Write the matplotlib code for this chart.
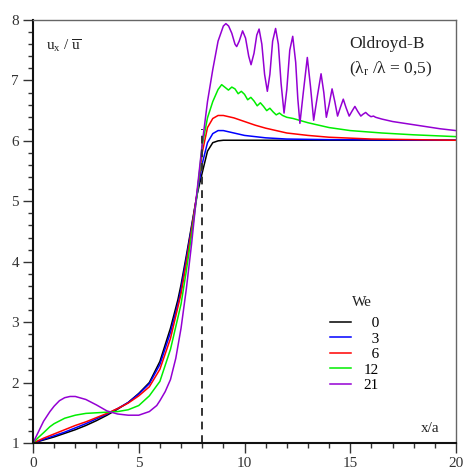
import matplotlib
matplotlib.use("Agg")
import matplotlib.pyplot as plt
from matplotlib.ticker import MultipleLocator

plt.rcParams['font.family'] = ['Liberation Serif', 'DejaVu Serif']
plt.rcParams['mathtext.fontset'] = 'custom'
plt.rcParams['mathtext.rm'] = 'Liberation Serif'
plt.rcParams['mathtext.it'] = 'Liberation Serif'
plt.rcParams['mathtext.bf'] = 'Liberation Serif'

# ---- data ----
we_labels = ["\u20070", "\u20073", "\u20076", "12", "21"]
colors = ["#000000", "#0000ff", "#ff0000", "#00ee00", "#9400d3"]

x_we0 = [0, 0.5, 1, 1.5, 2, 2.5, 3, 3.5, 4, 4.5, 5, 5.5, 6, 6.5, 6.85, 7, 7.25, 7.5, 7.75, 8, 8.25, 8.5, 8.75, 9, 10, 12, 15, 20]
y_we0 = [1.0, 1.05, 1.10, 1.16, 1.22, 1.29, 1.37, 1.46, 1.56, 1.67, 1.82, 2.0, 2.35, 2.9, 3.37, 3.62, 4.1, 4.6, 5.1, 5.47, 5.83, 5.97, 6.0, 6.01, 6.01, 6.01, 6.01, 6.01]

x_we3 = [0, 0.5, 1, 1.5, 2, 2.5, 3, 3.5, 4, 4.5, 5, 5.5, 6, 6.5, 6.9, 7, 7.25, 7.5, 7.75, 8, 8.25, 8.5, 8.75, 9, 9.5, 10, 11, 12, 14, 20]
y_we3 = [1.0, 1.06, 1.12, 1.18, 1.25, 1.32, 1.40, 1.48, 1.57, 1.67, 1.81, 1.98, 2.30, 2.83, 3.37, 3.55, 4.05, 4.57, 5.1, 5.62, 5.97, 6.12, 6.17, 6.17, 6.13, 6.09, 6.05, 6.03, 6.02, 6.01]

x_we6 = [0, 0.5, 1, 1.5, 2, 2.5, 3, 3.5, 4, 4.5, 5, 5.5, 6, 6.5, 7, 7.25, 7.5, 7.75, 8, 8.25, 8.5, 8.75, 9, 9.5, 10, 10.5, 11, 12, 13, 14, 16, 20]
y_we6 = [1.0, 1.08, 1.15, 1.22, 1.29, 1.35, 1.42, 1.49, 1.57, 1.66, 1.78, 1.93, 2.22, 2.73, 3.47, 3.98, 4.53, 5.12, 5.8, 6.22, 6.37, 6.42, 6.42, 6.38, 6.32, 6.26, 6.21, 6.13, 6.09, 6.06, 6.03, 6.01]

x_we12 = [0, 0.25, 0.5, 0.8, 1, 1.5, 2, 2.5, 3, 3.5, 4, 4.5, 5, 5.5, 6, 6.5, 7, 7.25, 7.5, 7.75, 8, 8.25, 8.5, 8.75, 8.92,
          9.1, 9.24, 9.4, 9.55, 9.7, 9.85, 10.0, 10.15, 10.3, 10.45, 10.6, 10.75, 10.9, 11.05, 11.2, 11.35, 11.5, 11.65, 11.8,
          12.0, 12.3, 12.6, 13, 14, 15, 16.5, 18, 20]
y_we12 = [1.0, 1.09, 1.17, 1.27, 1.32, 1.41, 1.46, 1.49, 1.50, 1.51, 1.52, 1.55, 1.62, 1.78, 2.02, 2.55, 3.3, 3.85, 4.45, 5.08, 5.92, 6.38, 6.65, 6.85, 6.93,
          6.88, 6.84, 6.89, 6.86, 6.78, 6.82, 6.77, 6.68, 6.72, 6.66, 6.58, 6.63, 6.57, 6.50, 6.54, 6.48, 6.43, 6.46, 6.42,
          6.39, 6.37, 6.34, 6.30, 6.22, 6.17, 6.13, 6.10, 6.07]

x_we21 = [0, 0.25, 0.5, 0.8, 1.0, 1.25, 1.5, 1.75, 2.0, 2.5, 3.0, 3.5, 4.0, 4.5, 5.0, 5.5, 5.85, 6.0, 6.25, 6.5, 6.75, 7.0, 7.25, 7.5,
          7.75, 8.0, 8.25, 8.5, 8.75, 9.0, 9.12, 9.25, 9.4, 9.55, 9.63, 9.75, 9.91, 10.05, 10.2, 10.31, 10.45, 10.58, 10.69,
          10.82, 10.95, 11.08, 11.2, 11.33, 11.47, 11.6, 11.73, 11.87, 12.0, 12.14, 12.28, 12.42, 12.52, 12.62, 12.78, 12.97,
          13.12, 13.27, 13.45, 13.62, 13.75, 13.87, 14.0, 14.14, 14.27, 14.4, 14.53, 14.67, 14.8, 14.95, 15.08, 15.22, 15.35,
          15.5, 15.6, 15.73, 15.85, 15.98, 16.1, 16.2, 16.5, 17, 17.75, 18.5, 19.25, 20]
y_we21 = [1.0, 1.18, 1.36, 1.52, 1.61, 1.70, 1.75, 1.77, 1.77, 1.72, 1.63, 1.53, 1.48, 1.46, 1.46, 1.52, 1.62, 1.70, 1.85, 2.05, 2.4, 2.9, 3.55, 4.3,
          5.15, 5.95, 6.65, 7.18, 7.65, 7.9, 7.94, 7.90, 7.78, 7.6, 7.56, 7.65, 7.82, 7.7, 7.4, 7.26, 7.45, 7.75, 7.85,
          7.6, 7.1, 6.82, 7.1, 7.65, 7.86, 7.6, 6.95, 6.46, 6.85, 7.5, 7.73, 7.3, 6.7, 6.29, 6.8, 7.38,
          6.9, 6.34, 6.75, 7.11, 6.8, 6.39, 6.6, 6.86, 6.65, 6.41, 6.55, 6.69, 6.55, 6.41, 6.49, 6.57, 6.49,
          6.41, 6.44, 6.47, 6.43, 6.40, 6.41, 6.39, 6.36, 6.32, 6.28, 6.24, 6.20, 6.17]

series_x = [x_we0, x_we3, x_we6, x_we12, x_we21]
series_y = [y_we0, y_we3, y_we6, y_we12, y_we21]

contraction_x = 8.0
contraction_top = 6.2

# ---- figure ----
fig = plt.figure(figsize=(4.64, 4.73), dpi=100)
ax = fig.add_axes([33/464, 30/473, 423/464, 423/473])

for xs, ys, c, lab in zip(series_x, series_y, colors, we_labels):
    ax.plot(xs, ys, color=c, lw=1.1, label=lab)

ax.plot([contraction_x, contraction_x], [1, contraction_top], color="#333333",
        lw=1.4, ls=(0, (4, 3)))

ax.set_xlim(0, 20)
ax.set_ylim(1, 8)
ax.xaxis.set_major_locator(MultipleLocator(5))
ax.xaxis.set_minor_locator(MultipleLocator(1))
ax.yaxis.set_major_locator(MultipleLocator(1))
ax.yaxis.set_minor_locator(MultipleLocator(0.2))
ax.tick_params(which='major', length=7, width=1.0, labelsize=11, direction='out', pad=3,
               top=False, right=False, colors='#333333')
ax.tick_params(which='minor', length=3.6, width=1.0, direction='out', top=False, right=False,
               colors='#333333')
for side in ['left', 'bottom']:
    ax.spines[side].set_linewidth(1.5)
    ax.spines[side].set_color('#111111')
for side in ['top', 'right']:
    ax.spines[side].set_linewidth(1.0)
    ax.spines[side].set_color('#666666')

ax.text(0.6, 7.57, r'$u_x\ /\ \overline{u}$', fontsize=11, ha='left', va='center', color='#222222')
ax.text(14.95, 7.61, 'Oldroyd-B', fontsize=12.5, ha='left', va='center', color='#222222')
ax.text(14.95, 7.18, r'($\lambda_r$ /$\lambda$ = 0,5)', fontsize=12.5, ha='left', va='center', color='#222222')
ax.text(18.8, 1.24, 'x/a', fontsize=11, ha='center', va='center', color='#222222')
ax.text(15.53, 3.33, 'We', fontsize=11, ha='center', va='center', color='#222222')

leg = ax.legend(loc='upper left', bbox_to_anchor=(0.669, 0.332), frameon=False,
                fontsize=11, handlelength=1.37, handletextpad=0.85,
                labelspacing=0.12, borderpad=0.4)

fig.savefig('out.png', dpi=100)
